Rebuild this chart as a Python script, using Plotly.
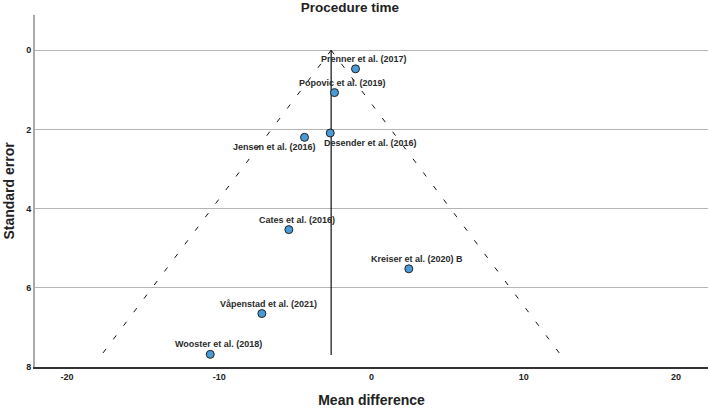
import plotly.graph_objects as go

studies = ["Prenner et al. (2017)", "Popovic et al. (2019)", "Desender et al. (2016)",
           "Jensen et al. (2016)", "Cates et al. (2016)", "Kreiser et al. (2020) B",
           "Våpenstad et al. (2021)", "Wooster et al. (2018)"]
mean_diff = [-1.05, -2.43, -2.71, -4.40, -5.43, 2.45, -7.20, -10.59]
std_err = [0.47, 1.07, 2.09, 2.20, 4.53, 5.52, 6.65, 7.68]

pooled = -2.65
funnel_se = [0, 7.7]
funnel_left = [-2.65, -17.74]
funnel_right = [-2.65, 12.44]

x_ticks = [-20, -10, 0, 10, 20]
x_labels = ["-20", "-10", "0", "10", "20"]
y_ticks = [0, 2, 4, 6, 8]
y_labels = ["0", "2", "4", "6", "8"]

# label offsets (pixels): most above-right, two below
label_dx = [8, 8, 40, -30, 8, 8, 7, 8]
label_dy = [10, 10, -10, -10, 10, 10, 10, 10]

FONT = "Liberation Sans, Arial, sans-serif"

fig = go.Figure()
fig.add_trace(go.Scatter(x=funnel_left, y=funnel_se, mode="lines",
                         line=dict(color="#111", width=1, dash="5px,12px"), hoverinfo="skip"))
fig.add_trace(go.Scatter(x=funnel_right, y=funnel_se, mode="lines",
                         line=dict(color="#111", width=1, dash="5px,12px"), hoverinfo="skip"))
fig.add_trace(go.Scatter(x=[pooled, pooled], y=funnel_se, mode="lines",
                         line=dict(color="#111", width=1.2), hoverinfo="skip"))
fig.add_trace(go.Scatter(x=mean_diff, y=std_err, mode="markers",
                         marker=dict(size=8, color="#4a9ad6", line=dict(color="#222", width=1)),
                         text=studies, hoverinfo="text"))

for s, x, y, dx, dy in zip(studies, mean_diff, std_err, label_dx, label_dy):
    fig.add_annotation(x=x, y=y, text="<b>" + s + "</b>", showarrow=False, xshift=dx, yshift=dy,
                       font=dict(family=FONT, size=9, color="#2a2a2a"))

fig.update_layout(
    width=709, height=408,
    margin=dict(l=35, r=1, t=15, b=41),
    plot_bgcolor="white", paper_bgcolor="white",
    showlegend=False,
    title=dict(text="<b>Procedure time</b>", x=350 / 709, xanchor="center",
               yref="container", y=1 - 7 / 408, yanchor="middle",
               pad=dict(t=0, b=0), font=dict(family=FONT, size=13.5, color="#222")),
    xaxis=dict(range=[-22.1, 22.1], tickvals=x_ticks, ticktext=["<b>%s</b>" % t for t in x_labels],
               showgrid=False, zeroline=False,
               showline=True, linecolor="#333", linewidth=2, ticks="",
               tickfont=dict(family=FONT, size=9, color="#222"),
               title=dict(text="<b>Mean difference</b>", standoff=14,
                          font=dict(family=FONT, size=14, color="#222"))),
    yaxis=dict(range=[8, -0.89], tickvals=y_ticks, ticktext=["<b>%s</b>" % t for t in y_labels],
               showgrid=True, gridcolor="#b4b4b4", gridwidth=1,
               zeroline=False, showline=True, linecolor="#aaa", linewidth=2, ticks="",
               tickfont=dict(family=FONT, size=9, color="#222"),
               title=dict(text="<b>Standard error</b>", standoff=8,
                          font=dict(family=FONT, size=14, color="#222"))),
)

fig.write_html("out.html")
